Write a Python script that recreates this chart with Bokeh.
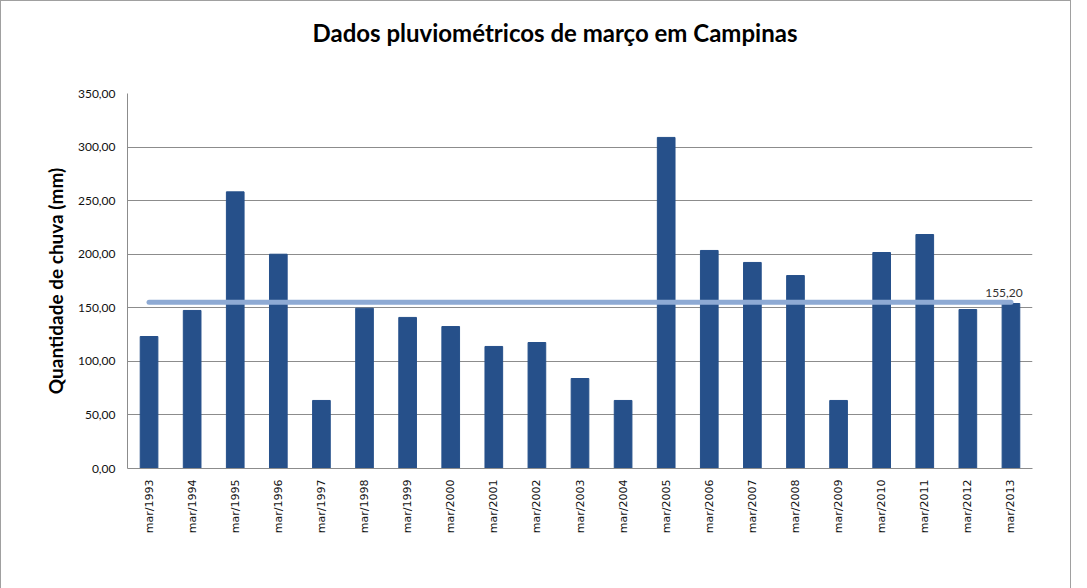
import math
from bokeh.plotting import figure
from bokeh.models import ColumnDataSource, CustomJSTickFormatter, Legend, LegendItem, FixedTicker
from bokeh.core.properties import value
from bokeh.embed import file_html
from bokeh.resources import INLINE

anos = ["mar/1993", "mar/1994", "mar/1995", "mar/1996", "mar/1997", "mar/1998", "mar/1999",
        "mar/2000", "mar/2001", "mar/2002", "mar/2003", "mar/2004", "mar/2005", "mar/2006",
        "mar/2007", "mar/2008", "mar/2009", "mar/2010", "mar/2011", "mar/2012", "mar/2013"]
chuva = [123.2, 147.5, 258.2, 200.0, 63.5, 149.6, 141.0, 132.5, 113.9, 117.6, 84.0,
         63.5, 309.0, 203.5, 192.3, 180.1, 63.5, 201.6, 218.4, 148.4, 154.0]
media = 155.20
ticks_y = [0, 50, 100, 150, 200, 250, 300, 350]

FONT = "Lato"
BAR = "#26508a"
LINE = "#8eaad4"

p = figure(x_range=anos, y_range=(0, 350),
           frame_width=905, frame_height=375,
           output_backend="svg", toolbar_location=None,
           min_border_left=126, min_border_top=92, min_border_right=38, min_border_bottom=0)

p.title.text = "Dados pluviométricos de março em Campinas"
p.title.align = "left"
p.title.offset = 185
p.title.standoff = 10
p.title.padding = dict(left=0, right=0, top=0, bottom=42)
p.title.text_font = FONT
p.title.text_font_size = "24px"
p.title.text_font_style = "bold"
p.title.text_color = "#000000"

p.outline_line_color = None
p.xgrid.grid_line_color = None
p.ygrid.grid_line_color = "#8c8c8c"
p.ygrid.ticker = FixedTicker(ticks=ticks_y)

p.yaxis.ticker = FixedTicker(ticks=ticks_y)
p.yaxis.formatter = CustomJSTickFormatter(code="return tick.toFixed(2).replace('.', ',');")
p.yaxis.major_label_text_font = FONT
p.yaxis.major_label_text_font_size = "12px"
p.yaxis.major_label_text_color = "#111111"
p.yaxis.major_tick_line_color = None
p.yaxis.major_tick_out = 0
p.yaxis.minor_tick_line_color = None
p.yaxis.minor_tick_out = 0
p.yaxis.axis_line_color = "#8c8c8c"
p.yaxis.major_label_standoff = 12
p.yaxis.axis_label = "Quantidade de chuva (mm)"
p.yaxis.axis_label_text_font = FONT
p.yaxis.axis_label_text_font_size = "19px"
p.yaxis.axis_label_text_font_style = "bold"
p.yaxis.axis_label_text_color = "#000000"
p.yaxis.axis_label_standoff = 8

p.xaxis.major_label_orientation = math.pi / 2
p.xaxis.major_label_text_font = "DejaVu Sans"
p.xaxis.major_label_text_font_size = "11px"
p.xaxis.major_label_text_color = "#111111"
p.xaxis.major_tick_line_color = None
p.xaxis.major_tick_out = 0
p.xaxis.minor_tick_out = 0
p.xaxis.axis_line_color = "#8c8c8c"
p.xaxis.major_label_standoff = 11

src = ColumnDataSource(data=dict(ano=anos, chuva=chuva))
bars = p.vbar(x="ano", top="chuva", width=0.41, source=src, fill_color=BAR, line_color=BAR)
linha = p.line(x=[anos[0], anos[-1]], y=[media, media], line_width=5, line_color=LINE, line_cap="round")
p.text(x=[anos[-1]], y=[media], text=[f"{media:.2f}".replace(".", ",")], x_offset=-7, y_offset=-5,
       text_align="center", text_baseline="bottom", text_font=value(FONT),
       text_font_size="12px", text_color="#333333")

legend = Legend(items=[LegendItem(label="chuva acumulada mensal", renderers=[bars]),
                       LegendItem(label="média da série histórica", renderers=[linha])],
                orientation="horizontal", location=(212, 22),
                border_line_color=None, background_fill_alpha=0,
                label_text_font=FONT, label_text_font_size="15px", label_text_color="#111111",
                label_height=16, glyph_width=30, glyph_height=12, spacing=30, label_standoff=3,
                padding=0, margin=0)
p.add_layout(legend, "below")

p.styles = {"border": "1px solid #a0a0a0"}

open("out.html", "w").write(file_html(p, INLINE))
